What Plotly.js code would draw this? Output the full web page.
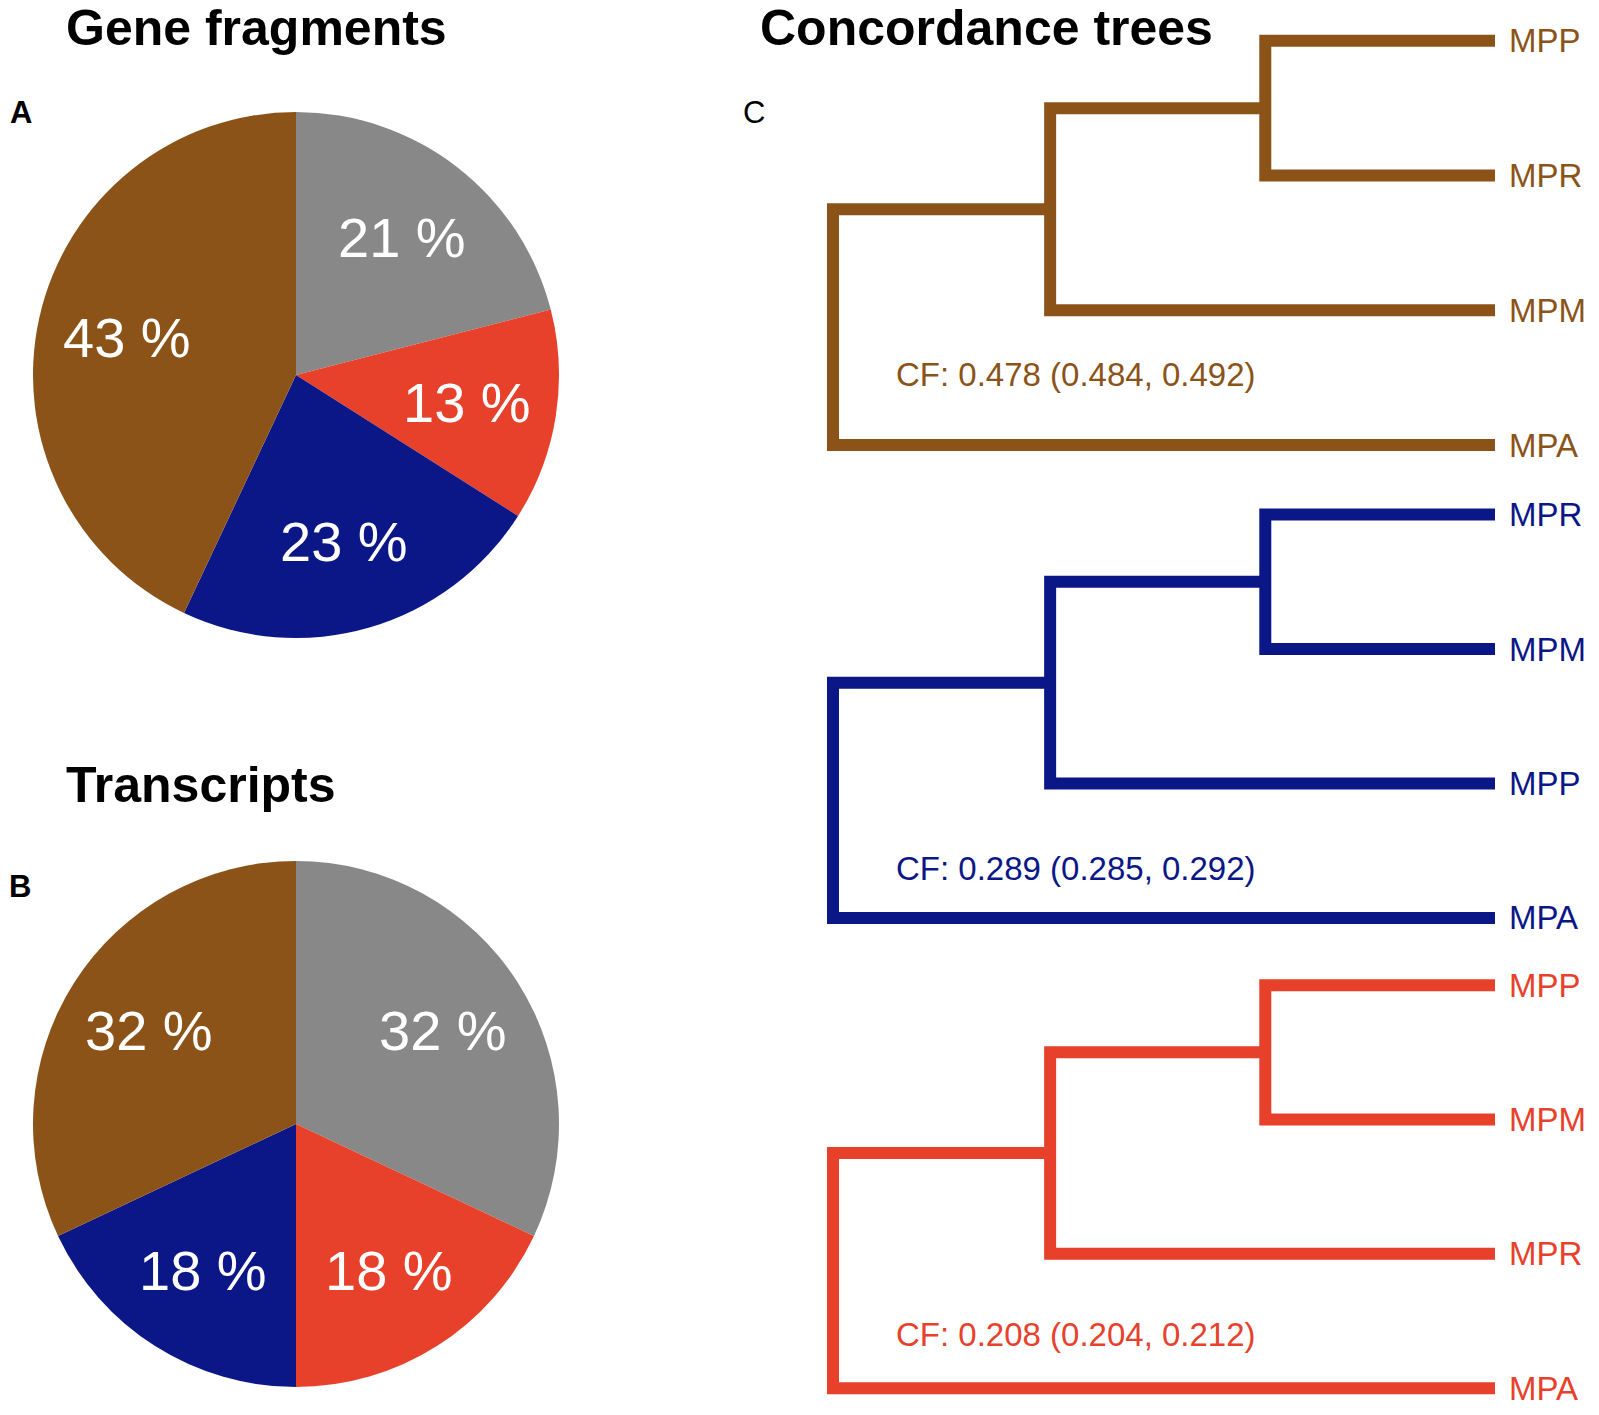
<!DOCTYPE html>
<html><head><meta charset="utf-8">
<script src="https://cdn.plot.ly/plotly-3.0.1.min.js"></script>
<style>html,body{margin:0;padding:0;background:#fff}</style>
</head><body><div id="chart" style="width:1599px;height:1415px"></div>
<script>
// ---- data ----
const sliceNames = ['Gray', 'Red', 'Blue', 'Brown'];
const geneFragments = [21, 13, 23, 43];
const transcripts = [32, 18, 18, 32];
const sliceColors = ['#888888', '#E8412B', '#0B1787', '#8C5319'];

const treeTips1 = ['MPP', 'MPR', 'MPM', 'MPA'];
const treeTips2 = ['MPR', 'MPM', 'MPP', 'MPA'];
const treeTips3 = ['MPP', 'MPM', 'MPR', 'MPA'];
const nodeDepths = [0, 0.328, 0.653, 1.0]; // root, inner node, innermost node, tips
const cfLabels = ['CF: 0.478 (0.484, 0.492)', 'CF: 0.289 (0.285, 0.292)', 'CF: 0.208 (0.204, 0.212)'];
const treeColors = ['#8C5319', '#0B1787', '#E8412B'];

// ---- layout helpers ----
const W = 1599, H = 1415;
const FONT = 'Liberation Sans, Arial, Helvetica, sans-serif';
const px2x = p => p / W;
const px2y = p => 1 - p / H;

const pies = [
  {vals: geneFragments, cx: 296, cy: 375, r: 263},
  {vals: transcripts, cx: 296, cy: 1124, r: 263}
];

const data = [];
const annotations = [];

pies.forEach((p, i) => {
  data.push({
    type: 'pie', values: p.vals, labels: sliceNames, sort: false,
    direction: 'clockwise', rotation: 0, textinfo: 'none', hoverinfo: 'label+percent',
    marker: {colors: sliceColors, line: {width: 0}},
    domain: {x: [px2x(p.cx - p.r), px2x(p.cx + p.r)], y: [px2y(p.cy + p.r), px2y(p.cy - p.r)]},
    showlegend: false
  });
  const total = p.vals.reduce((a, b) => a + b, 0);
  let cum = 0;
  p.vals.forEach(v => {
    const mid = (cum + v / 2) / total * 2 * Math.PI;
    cum += v;
    const rr = 0.66 * p.r;
    annotations.push({
      xref: 'paper', yref: 'paper',
      x: px2x(p.cx + rr * Math.sin(mid)), y: px2y(p.cy - rr * Math.cos(mid)),
      text: v + ' %', showarrow: false, xanchor: 'center', yanchor: 'middle',
      font: {family: FONT, size: 56, color: '#ffffff'}
    });
  });
});

// ---- trees ----
const tipsAll = [treeTips1, treeTips2, treeTips3];
const tipPx = [[40.8, 445], [514.6, 918], [985.4, 1392]]; // pixel rows of first/last tip
const cfRow = [3.48, 3.63, 3.60];
const xRootPx = 833, xTipPx = 1495;
const xr = [-0.05, 1.05];
const xUnit = (xTipPx - xRootPx) / (nodeDepths[3] - nodeDepths[0]);
const layoutAxes = {
  xaxis: {domain: [px2x(xRootPx + xr[0] * xUnit), px2x(xRootPx + xr[1] * xUnit)], range: xr,
          visible: false, fixedrange: true, anchor: 'y'}
};

tipsAll.forEach((tips, i) => {
  const [d0, d1, d2, dt] = nodeDepths;
  const n2y = 1.5, n1y = (n2y + 3) / 2;
  const yname = i === 0 ? 'y' : 'y' + (i + 1);
  const axname = i === 0 ? 'yaxis' : 'yaxis' + (i + 1);
  const u = (tipPx[i][1] - tipPx[i][0]) / 3;
  layoutAxes[axname] = {
    domain: [px2y(tipPx[i][1] + 0.2 * u), px2y(tipPx[i][0] - 0.2 * u)],
    range: [4.2, 0.8], visible: false, fixedrange: true, anchor: 'x'
  };
  data.push({
    type: 'scatter', mode: 'lines', xaxis: 'x', yaxis: yname, showlegend: false, hoverinfo: 'skip',
    x: [dt, d2, d2, dt, null, d2, d1, d1, dt, null, d1, d0, d0, dt],
    y: [1, 1, 2, 2, null, n2y, n2y, 3, 3, null, n1y, n1y, 4, 4],
    line: {color: treeColors[i], width: 12}, connectgaps: false
  });
  tips.forEach((t, j) => {
    annotations.push({
      xref: 'x', yref: yname, x: dt, y: j + 1, xshift: 12, text: t, showarrow: false,
      xanchor: 'left', yanchor: 'middle', font: {family: FONT, size: 33, color: treeColors[i]}
    });
  });
  annotations.push({
    xref: 'x', yref: yname, x: 0.092, y: cfRow[i], text: cfLabels[i], showarrow: false,
    xanchor: 'left', yanchor: 'middle', font: {family: FONT, size: 33, color: treeColors[i]}
  });
});

// ---- titles & panel letters ----
const titles = [
  {t: '<b>Gene fragments</b>', x: 64, y: 28, s: 50},
  {t: '<b>Transcripts</b>', x: 64, y: 785, s: 50},
  {t: '<b>Concordance trees</b>', x: 758, y: 28, s: 50},
  {t: '<b>A</b>', x: 8, y: 113, s: 31},
  {t: '<b>B</b>', x: 7, y: 886, s: 31},
  {t: 'C', x: 741, y: 113, s: 31}
];
titles.forEach(o => annotations.push({
  xref: 'paper', yref: 'paper', x: px2x(o.x), y: px2y(o.y), text: o.t,
  showarrow: false, xanchor: 'left', yanchor: 'middle',
  font: {family: FONT, size: o.s, color: '#000000'}
}));

const layout = Object.assign({
  width: W, height: H, margin: {l: 0, r: 0, t: 0, b: 0},
  paper_bgcolor: '#ffffff', plot_bgcolor: '#ffffff', showlegend: false,
  annotations: annotations
}, layoutAxes);

Plotly.newPlot('chart', data, layout, {displayModeBar: false, staticPlot: true});
</script>
</body></html>
